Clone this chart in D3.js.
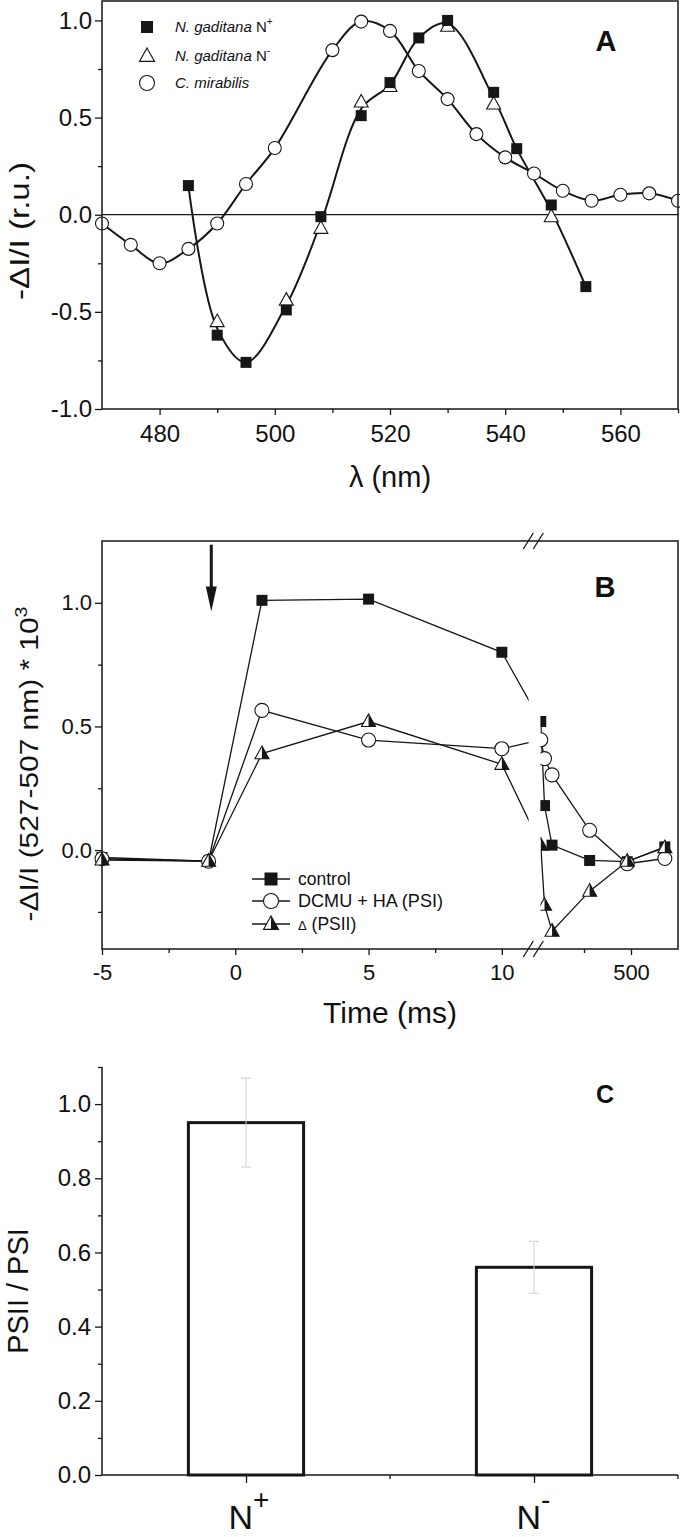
<!DOCTYPE html>
<html><head><meta charset="utf-8">
<script src="https://cdn.jsdelivr.net/npm/d3@7"></script>
<style>
body{margin:0;background:#fff}
svg{display:block}
text{font-family:"Liberation Sans",Arial,sans-serif;fill:#111}
</style>
</head><body>
<svg id="c" width="680" height="1537"></svg>
<script>
// ---------- Panel A data ----------
const wlNplus  = [485,490,495,502,508,515,520,525,530,538,542,548,554];
const valNplus = [0.15,-0.62,-0.76,-0.49,-0.01,0.51,0.68,0.91,1.00,0.63,0.34,0.05,-0.37];
const wlNminus  = [490,502,508,515,520,530,538,548];
const valNminus = [-0.55,-0.44,-0.07,0.58,0.66,0.97,0.57,-0.01];
const wlCmir  = [470,475,480,485,490,495,500,510,515,520,525,530,535,540,545,550,555,560,565,570];
const valCmir = [-0.045,-0.155,-0.25,-0.176,-0.045,0.158,0.343,0.847,0.994,0.946,0.74,0.595,0.415,0.295,0.212,0.123,0.072,0.103,0.11,0.072];
const ticksAX = [480,500,520,540,560];
const minorAX = [490,510,530,550,570];
const ticksAY = [-1.0,-0.5,0.0,0.5,1.0];
const minorAY = [-0.75,-0.25,0.25,0.75];

// ---------- Panel B data ----------
const timesB   = [-5,-1,1,5,10,20,40,80,280,480,680];
const control  = [-0.03,-0.045,1.01,1.015,0.80,0.52,0.18,0.02,-0.042,-0.047,0.013];
const dcmuHA   = [-0.035,-0.045,0.565,0.445,0.41,0.446,0.37,0.304,0.08,-0.055,-0.034];
const deltaPS2 = [-0.04,-0.045,0.39,0.52,0.347,0.02,-0.223,-0.328,-0.166,-0.045,0.01];
const ticksBLeft = [-5,0,5,10];
const minorBLeft = [-2.5,2.5,7.5];
const ticksBRight = [500];
const minorBRight = [250];
const ticksBY = [0.0,0.5,1.0];
const minorBY = [-0.25,0.25,0.75];
const flashTime = -0.9;

// ---------- Panel C data ----------
const groupsC = ["N+","N-"];
const supC = ["+","-"];
const ratioC = [0.95,0.56];
const errC = [0.12,0.07];
const ticksCY = [0.0,0.2,0.4,0.6,0.8,1.0];
const minorCY = [0.1,0.3,0.5,0.7,0.9,1.1];

const svg = d3.select("#c");
const INK = "#161616";
const fmt1 = d => d.toFixed(1);

function styleAxis(g, fs){
  g.select(".domain").remove();
  g.selectAll(".tick line").attr("stroke", INK).attr("stroke-width", 1.3);
  g.selectAll(".tick text").attr("font-size", fs).attr("fill", INK)
    .attr("font-family", '"Liberation Sans",Arial,sans-serif');
}

function square(g, x, y, s){ g.append("rect").attr("x", x-s/2).attr("y", y-s/2).attr("width", s).attr("height", s).attr("fill", INK); }
function circle(g, x, y, r){ g.append("circle").attr("cx", x).attr("cy", y).attr("r", r).attr("fill", "#fff").attr("stroke", INK).attr("stroke-width", 1.1); }
function triangle(g, x, y, w, half){
  const h = w*0.9;
  g.append("path").attr("d", `M${x},${y-h*0.6}L${x+w/2},${y+h*0.4}L${x-w/2},${y+h*0.4}Z`)
    .attr("fill", "#fff").attr("stroke", INK).attr("stroke-width", 1.1);
  if (half) g.append("path").attr("d", `M${x},${y-h*0.6}L${x+w/2},${y+h*0.4}L${x},${y+h*0.4}Z`).attr("fill", INK);
}

// ================= PANEL A =================
const A = {l:102, r:678, t:1, b:409};
const xA = d3.scaleLinear().domain([470,570]).range([A.l, A.r]);
const yA = d3.scaleLinear().domain([-1,1.1]).range([A.b, A.t]);
const gA = svg.append("g");
gA.append("clipPath").attr("id","clipA").append("rect").attr("x",A.l).attr("y",A.t).attr("width",A.r-A.l).attr("height",A.b-A.t);

gA.append("line").attr("x1",A.l).attr("x2",A.r).attr("y1",yA(0)).attr("y2",yA(0)).attr("stroke",INK).attr("stroke-width",1.2);

const lineA = d3.line().x(d=>xA(d[0])).y(d=>yA(d[1])).curve(d3.curveCatmullRom.alpha(0.5));
const ngCurve = wlNplus.map((w,i)=>{
  const j = wlNminus.indexOf(w);
  return [w, j>=0 ? (valNplus[i]+valNminus[j])/2 : valNplus[i]];
});
const cmCurve = wlCmir.map((w,i)=>[w, valCmir[i]]);
gA.append("path").attr("d", lineA(cmCurve)).attr("fill","none").attr("stroke",INK).attr("stroke-width",2).attr("clip-path","url(#clipA)");
gA.append("path").attr("d", lineA(ngCurve)).attr("fill","none").attr("stroke",INK).attr("stroke-width",2).attr("clip-path","url(#clipA)");

wlCmir.forEach((w,i)=>circle(gA, xA(w), yA(valCmir[i]), 6.5));
wlNminus.forEach((w,i)=>triangle(gA, xA(w), yA(valNminus[i]), 14, false));
wlNplus.forEach((w,i)=>square(gA, xA(w), yA(valNplus[i]), 11));

gA.append("rect").attr("x",A.l).attr("y",A.t).attr("width",A.r-A.l).attr("height",A.b-A.t).attr("fill","none").attr("stroke",INK).attr("stroke-width",1.5);
const axAy = gA.append("g").attr("transform",`translate(${A.l},0)`).call(d3.axisLeft(yA).tickValues(ticksAY).tickSize(7).tickPadding(3).tickFormat(fmt1));
styleAxis(axAy, 24);
const axAym = gA.append("g").attr("transform",`translate(${A.l},0)`).call(d3.axisLeft(yA).tickValues(minorAY).tickSize(4).tickFormat(""));
styleAxis(axAym, 10);
const axAx = gA.append("g").attr("transform",`translate(0,${A.b})`).call(d3.axisBottom(xA).tickValues(ticksAX).tickSize(6).tickPadding(10).tickFormat(d3.format("d")));
styleAxis(axAx, 24);
const axAxm = gA.append("g").attr("transform",`translate(0,${A.b})`).call(d3.axisBottom(xA).tickValues(minorAX).tickSize(4).tickFormat(""));
styleAxis(axAxm, 10);

gA.append("text").attr("x",606).attr("y",51).attr("text-anchor","middle").attr("font-size",29).attr("font-weight","bold").text("A");
gA.append("text").attr("transform","translate(29,231) rotate(-90)").attr("text-anchor","middle").attr("font-size",27)
  .attr("textLength",138).attr("lengthAdjust","spacingAndGlyphs").text("-\u0394I/I (r.u.)");
gA.append("text").attr("x",390).attr("y",487).attr("text-anchor","middle").attr("font-size",29).text("\u03BB (nm)");

const legA = gA.append("g");
square(legA, 147, 27, 12);
triangle(legA, 147, 56, 15, false);
circle(legA, 147, 83, 7.5);
[["N. gaditana"," N","+",27],["N. gaditana"," N","-",56],["C. mirabilis","","",83]].forEach(r=>{
  const t = legA.append("text").attr("x",175).attr("y",r[3]+5).attr("font-size",15);
  t.append("tspan").attr("font-style","italic").text(r[0]);
  if (r[1]) { t.append("tspan").text(r[1]); t.append("tspan").attr("font-size",10).attr("dy",-7).text(r[2]); }
});

// ================= PANEL B =================
const B = {l:102, r:678, t:541, b:949};
const xBL = d3.scaleLinear().domain([-5,11]).range([B.l, 528.5]);
const xBR = d3.scaleLinear().domain([0,750]).range([537, B.r]);
const xB = t => t <= 11 ? xBL(t) : xBR(t);
const yB = d3.scaleLinear().domain([-0.4,1.25]).range([B.b, B.t]);
const gB = svg.append("g");
const lineB = d3.line().x(d=>xB(d[0])).y(d=>yB(d[1]));
const seriesB = [control, dcmuHA, deltaPS2];
seriesB.forEach(s=>{
  gB.append("path").attr("d", lineB(timesB.map((t,i)=>[t,s[i]]))).attr("fill","none").attr("stroke",INK).attr("stroke-width",1.3);
});
timesB.forEach((t,i)=>square(gB, xB(t), yB(control[i]), 11));
timesB.forEach((t,i)=>circle(gB, xB(t), yB(dcmuHA[i]), 7));
timesB.forEach((t,i)=>triangle(gB, xB(t), yB(deltaPS2[i]), 14, true));

gB.append("rect").attr("x",528.6).attr("y",B.t+1).attr("width",540.4-528.6).attr("height",B.b-B.t-2).attr("fill","#fff");

gB.append("rect").attr("x",B.l).attr("y",B.t).attr("width",B.r-B.l).attr("height",B.b-B.t).attr("fill","none").attr("stroke",INK).attr("stroke-width",1.5);
[B.t, B.b].forEach(y=>{
  [528.3, 538.3].forEach(cx=>{
    gB.append("line").attr("x1",cx-5).attr("y1",y+8).attr("x2",cx+5).attr("y2",y-8).attr("stroke",INK).attr("stroke-width",1.3);
  });
});

const axBy = gB.append("g").attr("transform",`translate(${B.l},0)`).call(d3.axisLeft(yB).tickValues(ticksBY).tickSize(7).tickPadding(3).tickFormat(fmt1));
styleAxis(axBy, 22);
const axBym = gB.append("g").attr("transform",`translate(${B.l},0)`).call(d3.axisLeft(yB).tickValues(minorBY).tickSize(4).tickFormat(""));
styleAxis(axBym, 10);
const axBxl = gB.append("g").attr("transform",`translate(0,${B.b})`).call(d3.axisBottom(xBL).tickValues(ticksBLeft).tickSize(6).tickPadding(9).tickFormat(d3.format("d")));
styleAxis(axBxl, 22);
axBxl.selectAll(".tick text").text(d=>d<0 ? "-"+Math.abs(d) : d);
const axBxlm = gB.append("g").attr("transform",`translate(0,${B.b})`).call(d3.axisBottom(xBL).tickValues(minorBLeft).tickSize(4).tickFormat(""));
styleAxis(axBxlm, 10);
const axBxr = gB.append("g").attr("transform",`translate(0,${B.b})`).call(d3.axisBottom(xBR).tickValues(ticksBRight).tickSize(6).tickPadding(9).tickFormat(d3.format("d")));
styleAxis(axBxr, 22);
const axBxrm = gB.append("g").attr("transform",`translate(0,${B.b})`).call(d3.axisBottom(xBR).tickValues(minorBRight).tickSize(4).tickFormat(""));
styleAxis(axBxrm, 10);

const ax0 = xB(flashTime), ayTop = yB(1.235), ayTip = yB(0.965);
gB.append("line").attr("x1",ax0).attr("x2",ax0).attr("y1",ayTop).attr("y2",ayTip-20).attr("stroke",INK).attr("stroke-width",3);
gB.append("path").attr("d",`M${ax0-5.5},${ayTip-25}L${ax0+5.5},${ayTip-25}L${ax0},${ayTip}Z`).attr("fill",INK);

gB.append("text").attr("x",605).attr("y",597).attr("text-anchor","middle").attr("font-size",29).attr("font-weight","bold").text("B");
const tB = gB.append("text").attr("transform","translate(38,764) rotate(-90)").attr("text-anchor","middle").attr("font-size",26)
  .attr("textLength",315).attr("lengthAdjust","spacingAndGlyphs");
tB.append("tspan").text("-\u0394I/I (527-507 nm) * 10");
tB.append("tspan").attr("font-size",17).attr("dy",-11).text("3");
gB.append("text").attr("x",390).attr("y",1023).attr("text-anchor","middle").attr("font-size",30).text("Time (ms)");

const legB = gB.append("g");
const legRows = [879, 901, 924];
legRows.forEach(y=>legB.append("line").attr("x1",252).attr("x2",290).attr("y1",y).attr("y2",y).attr("stroke",INK).attr("stroke-width",1.3));
square(legB, 271, legRows[0], 13);
circle(legB, 271, legRows[1], 7.5);
triangle(legB, 271, legRows[2], 15, true);
legB.append("text").attr("x",298).attr("y",legRows[0]+6).attr("font-size",17.5).text("control");
legB.append("text").attr("x",298).attr("y",legRows[1]+6).attr("font-size",17.5).attr("textLength",145).attr("lengthAdjust","spacingAndGlyphs").text("DCMU + HA (PSI)");
const t3 = legB.append("text").attr("x",298).attr("y",legRows[2]+6).attr("font-size",17.5);
t3.append("tspan").attr("font-size",13).text("\u0394");
t3.append("tspan").text(" (PSII)");

// ================= PANEL C =================
const C = {l:102, r:678, t:1067, b:1475};
const xC = d3.scalePoint().domain(groupsC).range([C.l, C.r]).padding(0.5);
const yC = d3.scaleLinear().domain([0,1.1]).range([C.b, C.t]);
const gC = svg.append("g");
const barW = xC.step()*0.4;
groupsC.forEach((g,i)=>{
  gC.append("rect").attr("x",xC(g)-barW/2).attr("y",yC(ratioC[i])).attr("width",barW).attr("height",yC(0)-yC(ratioC[i]))
    .attr("fill","#fff").attr("stroke",INK).attr("stroke-width",3);
});
groupsC.forEach((g,i)=>{
  const cx = xC(g), y1 = yC(ratioC[i]+errC[i]), y2 = yC(ratioC[i]-errC[i]);
  gC.append("line").attr("x1",cx).attr("x2",cx).attr("y1",y1).attr("y2",y2).attr("stroke","#cfcfcf").attr("stroke-width",1);
  [y1,y2].forEach(y=>gC.append("line").attr("x1",cx-5).attr("x2",cx+5).attr("y1",y).attr("y2",y).attr("stroke","#cfcfcf").attr("stroke-width",1));
});
gC.append("line").attr("x1",C.l).attr("x2",C.l).attr("y1",C.t).attr("y2",C.b).attr("stroke",INK).attr("stroke-width",1.5);
gC.append("line").attr("x1",C.l).attr("x2",C.r).attr("y1",C.b).attr("y2",C.b).attr("stroke",INK).attr("stroke-width",1.5);
const axCy = gC.append("g").attr("transform",`translate(${C.l},0)`).call(d3.axisLeft(yC).tickValues(ticksCY).tickSize(7).tickPadding(4).tickFormat(fmt1));
styleAxis(axCy, 24);
const axCym = gC.append("g").attr("transform",`translate(${C.l},0)`).call(d3.axisLeft(yC).tickValues(minorCY).tickSize(4).tickFormat(""));
styleAxis(axCym, 10);
const axCx = gC.append("g").attr("transform",`translate(0,${C.b})`).call(d3.axisBottom(xC).tickSize(8).tickFormat(""));
styleAxis(axCx, 10);
[(xC(groupsC[0])+xC(groupsC[1]))/2, C.r].forEach(x=>gC.append("line").attr("x1",x).attr("x2",x).attr("y1",C.b).attr("y2",C.b+4).attr("stroke",INK).attr("stroke-width",1.3));
groupsC.forEach((g,i)=>{
  const t = gC.append("text").attr("x",xC(g)-17.5).attr("y",1529).attr("font-size",34);
  t.append("tspan").text("N");
  t.append("tspan").attr("font-size",28).attr("dy",-20).text(supC[i]);
});
gC.append("text").attr("x",605).attr("y",1103).attr("text-anchor","middle").attr("font-size",25).attr("font-weight","bold").text("C");
gC.append("text").attr("transform","translate(28,1291) rotate(-90)").attr("text-anchor","middle").attr("font-size",29).text("PSII / PSI");
</script>
</body></html>
